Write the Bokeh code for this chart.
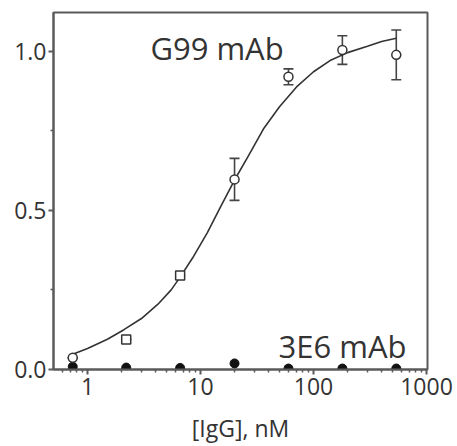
from bokeh.plotting import figure
from bokeh.models import Range1d, FixedTicker, Whisker, TeeHead, ColumnDataSource, Label
from bokeh.embed import file_html
from bokeh.resources import INLINE

# concentrations (nM)
conc = [0.74, 2.2, 6.6, 20, 60, 180, 540]
# G99 mAb binding (normalized)
g99_y = [0.037, 0.094, 0.295, 0.597, 0.919, 1.003, 0.988]
g99_err = [0.0, 0.0, 0.0, 0.066, 0.025, 0.045, 0.078]
g99_marker = ["circle", "square", "square", "circle", "circle", "circle", "circle"]
# 3E6 mAb binding
e36_y = [0.009, 0.006, 0.005, 0.019, 0.003, 0.003, 0.003]
# fitted curve
fit_x = [0.74, 1.0, 1.5, 2.1, 3.0, 4.2, 5.5, 6.6, 8.5, 11.5, 15, 20, 26, 36, 50, 72, 100, 140, 200, 300, 400, 540]
fit_y = [0.048, 0.066, 0.095, 0.125, 0.16, 0.205, 0.25, 0.29, 0.35, 0.43, 0.51, 0.595, 0.665, 0.755, 0.825, 0.89, 0.935, 0.97, 0.995, 1.015, 1.03, 1.04]

x_ticks = [1, 10, 100, 1000]
x_tick_labels = ["1", "10", "100", "1000"]
y_ticks = [0.0, 0.5, 1.0]
y_tick_labels = ["0.0", "0.5", "1.0"]

FONT = "Open Sans"
AX = "#5a5a5a"
TXT = "#333333"

p = figure(width=457, height=446, x_axis_type="log",
           x_range=Range1d(0.5, 1020), y_range=Range1d(0, 1.121),
           output_backend="svg", toolbar_location=None,
           min_border_left=53, min_border_right=30, min_border_top=12, min_border_bottom=75)
p.grid.visible = False
p.outline_line_color = AX
p.outline_line_width = 2
p.background_fill_color = "white"
p.border_fill_color = "white"

minor_x = [0.6, 0.7, 0.8, 0.9] + [m * d for d in (1, 10, 100) for m in range(2, 10)]
p.xaxis.ticker = FixedTicker(ticks=x_ticks, minor_ticks=minor_x)
p.xaxis.major_label_overrides = {t: l for t, l in zip(x_ticks, x_tick_labels)}
p.yaxis.ticker = FixedTicker(ticks=y_ticks, minor_ticks=[0.25, 0.75])
p.yaxis.major_label_overrides = {t: l for t, l in zip(y_ticks, y_tick_labels)}

for ax in (p.xaxis, p.yaxis):
    ax.axis_line_color = AX
    ax.axis_line_width = 2
    ax.major_tick_line_color = AX
    ax.minor_tick_line_color = AX
    ax.major_tick_line_width = 2
    ax.minor_tick_line_width = 1.5
    ax.major_tick_in = 0
    ax.major_tick_out = 5
    ax.minor_tick_in = 0
    ax.minor_tick_out = 3
    ax.major_label_text_font = FONT
    ax.major_label_text_font_size = "23px"
    ax.major_label_text_color = TXT
p.xaxis.major_label_standoff = 3
p.yaxis.major_label_standoff = 2
p.xaxis.axis_label = "[IgG], nM"
p.xaxis.axis_label_text_font = FONT
p.xaxis.axis_label_text_font_size = "23px"
p.xaxis.axis_label_text_font_style = "normal"
p.xaxis.axis_label_text_color = TXT
p.xaxis.axis_label_standoff = 14

# curve
p.line(fit_x, fit_y, line_color="#333333", line_width=1.6)

# error bars
src = ColumnDataSource(dict(x=conc, y=g99_y,
                            lo=[y - e for y, e in zip(g99_y, g99_err)],
                            hi=[y + e for y, e in zip(g99_y, g99_err)],
                            m=g99_marker))
w = Whisker(source=src, base="x", lower="lo", upper="hi", dimension="height",
            line_color="#444444", line_width=1.6,
            upper_head=TeeHead(size=10, line_color="#444444", line_width=1.6),
            lower_head=TeeHead(size=10, line_color="#444444", line_width=1.6))
p.add_layout(w)

# 3E6 filled points
p.scatter(conc, e36_y, marker="circle", size=9, fill_color="#111111", line_color="#111111")
# G99 open points
p.scatter(x="x", y="y", marker="m", source=src, size=9, fill_color="white",
          line_color="#333333", line_width=1.5)

p.add_layout(Label(x=3.6, y=1.011, text="G99 mAb", text_font=FONT, text_font_size="31px",
                   text_color=TXT, text_baseline="alphabetic"))
p.add_layout(Label(x=49, y=0.075, text="3E6 mAb", text_font=FONT, text_font_size="31px",
                   text_color=TXT, text_baseline="alphabetic"))

open("out.html", "w").write(file_html(p, INLINE))
